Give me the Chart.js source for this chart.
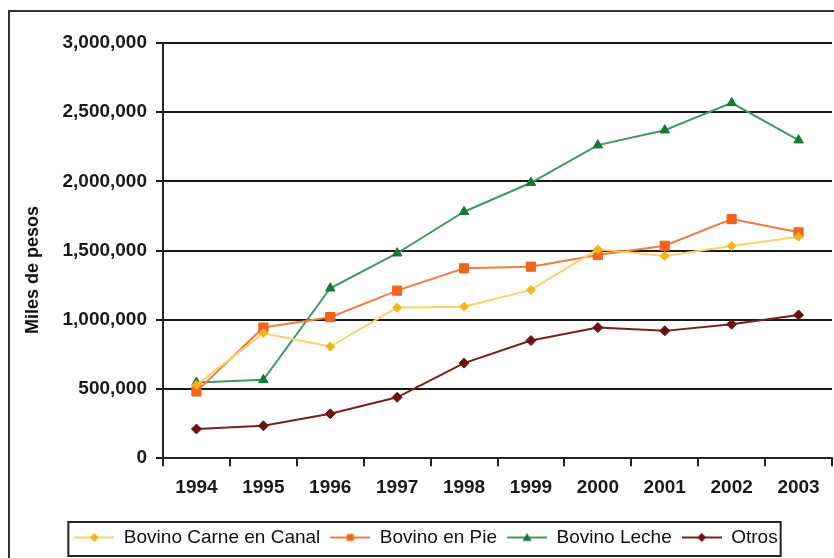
<!DOCTYPE html>
<html lang="es">
<head>
    <meta charset="UTF-8">
    <title>Miles de pesos</title>
    <script src="https://cdn.jsdelivr.net/npm/chart.js"></script>
    <style>
        html, body {
            margin: 0;
            padding: 0;
            background: #ffffff;
            overflow: hidden;
        }
        #wrap {
            width: 834px;
            height: 558px;
        }
    </style>
</head>
<body>
    <div id="wrap"><canvas id="plot" width="834" height="558"></canvas></div>

    <script>
        // Datos
        const years = ["1994", "1995", "1996", "1997", "1998", "1999", "2000", "2001", "2002", "2003"];
        const carneCanal = [530000, 903000, 807000, 1088000, 1095000, 1216000, 1509000, 1461000, 1533000, 1600000];
        const bovinoPie = [482000, 944000, 1019000, 1211000, 1372000, 1384000, 1468000, 1535000, 1728000, 1632000];
        const bovinoLeche = [547000, 566000, 1228000, 1481000, 1781000, 1990000, 2262000, 2370000, 2567000, 2298000];
        const otros = [211000, 234000, 321000, 440000, 687000, 850000, 944000, 920000, 968000, 1035000];
        const seriesNames = ["Bovino Carne en Canal", "Bovino en Pie", "Bovino Leche", "Otros"];
        const yTicks = [0, 500000, 1000000, 1500000, 2000000, 2500000, 3000000];
        const yTitle = "Miles de pesos";

        const FONT = "'Liberation Sans', Arial, sans-serif";
        const styles = [
            { line: "#fcd068", point: "#f5b41c", shape: "rectRot", r: 4.5 },
            { line: "#f07c3e", point: "#ee661e", shape: "rect", r: 6.5 },
            { line: "#3f9a62", point: "#157a38", shape: "triangle", r: 5.5 },
            { line: "#7c1f16", point: "#6e1010", shape: "rectRot", r: 5 }
        ];

        // small line + marker icons for the legend
        function makeIcon(s) {
            const c = document.createElement("canvas");
            c.width = 40; c.height = 14;
            const g = c.getContext("2d");
            g.strokeStyle = s.line;
            g.lineWidth = 2;
            g.beginPath(); g.moveTo(0, 7); g.lineTo(40, 7); g.stroke();
            g.fillStyle = s.point;
            g.beginPath();
            if (s.shape === "rect") {
                g.rect(16.5, 3.5, 7, 7);
            } else if (s.shape === "triangle") {
                g.moveTo(20, 2.5); g.lineTo(24.5, 10.5); g.lineTo(15.5, 10.5); g.closePath();
            } else {
                g.moveTo(20, 2.5); g.lineTo(24.5, 7); g.lineTo(20, 11.5); g.lineTo(15.5, 7); g.closePath();
            }
            g.fill();
            return c;
        }
        const icons = styles.map(makeIcon);

        const frame = {
            id: "frame",
            beforeDraw(chart) {
                const ctx = chart.ctx;
                ctx.save();
                ctx.fillStyle = "#ffffff";
                ctx.fillRect(0, 0, chart.width, chart.height);
                ctx.strokeStyle = "#333333";
                ctx.lineWidth = 2;
                ctx.strokeRect(9, 11, 900, 600);
                ctx.restore();
            },
            afterDraw(chart) {
                const ctx = chart.ctx;
                // y axis title, sitting a little below the middle as in the original
                ctx.save();
                ctx.translate(33, 270);
                ctx.rotate(-Math.PI / 2);
                ctx.font = "bold 18px " + FONT;
                ctx.fillStyle = "#111111";
                ctx.textAlign = "center";
                ctx.textBaseline = "middle";
                ctx.fillText(yTitle, 0, 0);
                ctx.restore();

                // border round the legend
                const hb = chart.legend.legendHitBoxes;
                if (!hb || !hb.length) return;
                const l = Math.min(...hb.map(h => h.left)) - 6;
                const r = Math.max(...hb.map(h => h.left + h.width)) + 3;
                const t = hb[0].top - 6;
                const b = hb[0].top + hb[0].height + 9;
                ctx.save();
                ctx.strokeStyle = "#222222";
                ctx.lineWidth = 2;
                ctx.strokeRect(l, t, r - l, b - t);
                ctx.restore();
            }
        };

        const data = [carneCanal, bovinoPie, bovinoLeche, otros];
        const datasets = data.map((vals, i) => ({
            label: seriesNames[i],
            data: vals,
            borderColor: styles[i].line,
            backgroundColor: styles[i].point,
            pointBackgroundColor: styles[i].point,
            pointBorderColor: styles[i].point,
            pointStyle: styles[i].shape,
            pointRadius: styles[i].r,
            pointBorderWidth: 1,
            borderWidth: 2,
            tension: 0,
            fill: false
        }));

        new Chart(document.getElementById("plot"), {
            type: "line",
            data: { labels: years, datasets: datasets },
            plugins: [frame],
            options: {
                responsive: false,
                animation: false,
                layout: {
                    autoPadding: false,
                    padding: { top: 43, left: 20, right: 2, bottom: 1 }
                },
                plugins: {
                    tooltip: { enabled: false },
                    legend: {
                        position: "bottom",
                        labels: {
                            font: { family: FONT, size: 19 },
                            color: "#111111",
                            usePointStyle: true,
                            pointStyleWidth: 40,
                            padding: 10,
                            generateLabels(chart) {
                                const items = Chart.defaults.plugins.legend.labels.generateLabels(chart);
                                items.forEach((it, i) => { it.pointStyle = icons[i]; });
                                return items;
                            }
                        }
                    }
                },
                scales: {
                    x: {
                        offset: true,
                        grid: {
                            offset: true,
                            drawOnChartArea: false,
                            drawTicks: true,
                            tickLength: 8,
                            color: "#222222",
                            lineWidth: 2
                        },
                        border: { color: "#222222", width: 2 },
                        ticks: {
                            font: { family: FONT, size: 19, weight: "bold" },
                            color: "#1a1a1a",
                            padding: 10,
                            maxRotation: 0
                        },
                        afterFit(scale) {
                            scale.height += 9;
                            scale.paddingLeft = 0;
                            scale.paddingRight = 0;
                        }
                    },
                    y: {
                        min: 0,
                        max: 3000000,
                        afterBuildTicks(scale) { scale.ticks = yTicks.map(v => ({ value: v })); },
                        grid: {
                            color: "#1a1a1a",
                            lineWidth: 2,
                            tickLength: 7
                        },
                        border: { color: "#222222", width: 2 },
                        ticks: {
                            font: { family: FONT, size: 19, weight: "bold" },
                            color: "#1a1a1a",
                            padding: 9,
                            callback: v => v.toLocaleString("en-US")
                        },
                        title: { display: false },
                        afterFit(scale) { scale.width = 143; }
                    }
                }
            }
        });
    </script>
</body>
</html>
